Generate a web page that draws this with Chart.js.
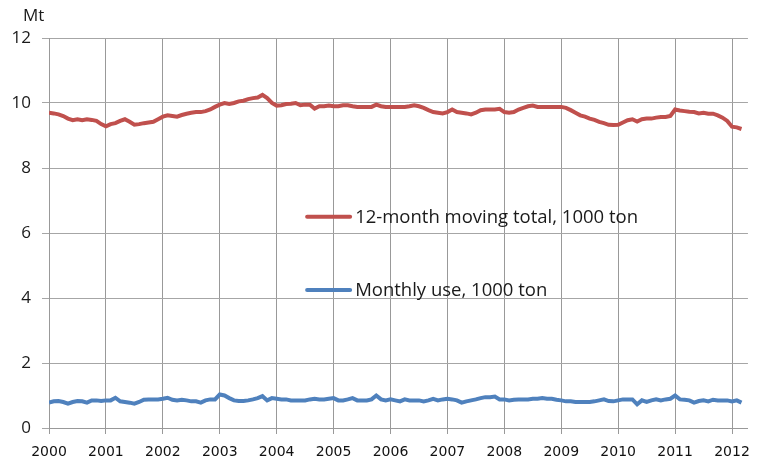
<!DOCTYPE html>
<html>
<head>
<meta charset="utf-8">
<script src="https://cdn.jsdelivr.net/npm/chart.js@4/dist/chart.umd.min.js"></script>
<style>
  html, body { margin: 0; padding: 0; background: #fff; }
  #wrap { width: 760px; height: 465px; }
</style>
</head>
<body>
<div id="wrap"><canvas id="c" width="760" height="465"></canvas></div>
<script>
// 月次データ 2000/01 〜 2012/03
const startYear = 2000;
const yearTicks = [2000, 2001, 2002, 2003, 2004, 2005, 2006, 2007, 2008, 2009, 2010, 2011, 2012];

const movingTotal = [
  9.70, 9.68, 9.65, 9.60, 9.52, 9.47, 9.50, 9.47, 9.50, 9.48, 9.45, 9.35, // 2000
  9.28, 9.35, 9.38, 9.45, 9.50, 9.42, 9.33, 9.35, 9.38, 9.40, 9.42, 9.50, // 2001
  9.58, 9.62, 9.60, 9.58, 9.63, 9.67, 9.70, 9.72, 9.72, 9.75, 9.80, 9.88, // 2002
  9.95, 10.00, 9.97, 10.00, 10.05, 10.07, 10.12, 10.15, 10.17, 10.25, 10.15, 10.00, // 2003
  9.92, 9.93, 9.97, 9.98, 10.00, 9.93, 9.95, 9.95, 9.83, 9.90, 9.90, 9.92, // 2004
  9.90, 9.90, 9.93, 9.93, 9.90, 9.88, 9.88, 9.88, 9.88, 9.95, 9.90, 9.88, // 2005
  9.88, 9.88, 9.88, 9.88, 9.90, 9.93, 9.90, 9.85, 9.78, 9.72, 9.70, 9.68, // 2006
  9.72, 9.80, 9.72, 9.70, 9.68, 9.65, 9.70, 9.78, 9.80, 9.80, 9.80, 9.82, // 2007
  9.72, 9.70, 9.72, 9.80, 9.85, 9.90, 9.92, 9.88, 9.88, 9.88, 9.88, 9.88, // 2008
  9.88, 9.85, 9.78, 9.70, 9.62, 9.58, 9.52, 9.48, 9.42, 9.38, 9.33, 9.32, // 2009
  9.33, 9.40, 9.47, 9.50, 9.43, 9.50, 9.52, 9.52, 9.55, 9.57, 9.57, 9.60, // 2010
  9.80, 9.77, 9.75, 9.73, 9.72, 9.68, 9.70, 9.67, 9.67, 9.62, 9.55, 9.45, // 2011
  9.27, 9.25, 9.20                                                        // 2012
];

const monthlyUse = [
  0.78, 0.82, 0.83, 0.80, 0.75, 0.80, 0.83, 0.82, 0.78, 0.85, 0.85, 0.83, // 2000
  0.85, 0.85, 0.93, 0.82, 0.80, 0.78, 0.75, 0.80, 0.87, 0.88, 0.88, 0.88, // 2001
  0.90, 0.93, 0.87, 0.85, 0.87, 0.85, 0.82, 0.82, 0.78, 0.85, 0.88, 0.88, // 2002
  1.03, 1.00, 0.92, 0.85, 0.83, 0.83, 0.85, 0.88, 0.92, 0.98, 0.85, 0.92, // 2003
  0.90, 0.88, 0.88, 0.85, 0.85, 0.85, 0.85, 0.88, 0.90, 0.88, 0.88, 0.90, // 2004
  0.92, 0.85, 0.85, 0.88, 0.92, 0.85, 0.85, 0.85, 0.88, 1.00, 0.88, 0.85, // 2005
  0.88, 0.85, 0.82, 0.88, 0.85, 0.85, 0.85, 0.82, 0.85, 0.90, 0.85, 0.88, // 2006
  0.90, 0.88, 0.85, 0.78, 0.82, 0.85, 0.88, 0.92, 0.95, 0.95, 0.97, 0.88, // 2007
  0.88, 0.85, 0.87, 0.88, 0.88, 0.88, 0.90, 0.90, 0.92, 0.90, 0.90, 0.87, // 2008
  0.85, 0.82, 0.82, 0.80, 0.80, 0.80, 0.80, 0.82, 0.85, 0.88, 0.83, 0.82, // 2009
  0.85, 0.88, 0.88, 0.88, 0.73, 0.85, 0.80, 0.85, 0.88, 0.85, 0.88, 0.90, // 2010
  1.00, 0.88, 0.87, 0.85, 0.78, 0.83, 0.85, 0.82, 0.87, 0.85, 0.85, 0.85, // 2011
  0.82, 0.85, 0.78                                                        // 2012
];

const labels = ["12-month moving total, 1000 ton", "Monthly use, 1000 ton"];
const colors = ["#C0504D", "#4F81BD"];

// x = 年 + 月/12
const toPoints = arr => arr.map((v, i) => ({ x: startYear + i / 12, y: v }));

// 凡例は図中に置く（Excel風）
const inlineLegend = {
  id: "inlineLegend",
  afterDraw(chart) {
    const ctx = chart.ctx;
    const xs = chart.scales.x, ys = chart.scales.y;
    const x0 = xs.getPixelForValue(2004.5);
    const rows = [6.5, 4.25];
    ctx.save();
    ctx.font = "18.5px 'Open Sans', sans-serif";
    ctx.textBaseline = "middle";
    chart.data.datasets.forEach((ds, i) => {
      const y = ys.getPixelForValue(rows[i]);
      ctx.strokeStyle = ds.borderColor;
      ctx.lineWidth = 4;
      ctx.lineCap = "round";
      ctx.beginPath();
      ctx.moveTo(x0 + 2, y);
      ctx.lineTo(x0 + 45, y);
      ctx.stroke();
      ctx.fillStyle = "#1a1a1a";
      ctx.fillText(ds.label, x0 + 50, y + 1);
    });
    // 単位
    ctx.font = "17px 'Open Sans', sans-serif";
    ctx.fillText("Mt", 23, 16);
    ctx.restore();
  }
};

new Chart(document.getElementById("c"), {
  type: "line",
  data: {
    datasets: [
      { label: labels[0], data: toPoints(movingTotal), borderColor: colors[0], borderWidth: 4, pointRadius: 0, tension: 0 },
      { label: labels[1], data: toPoints(monthlyUse), borderColor: colors[1], borderWidth: 4, pointRadius: 0, tension: 0 }
    ]
  },
  options: {
    responsive: false,
    animation: false,
    layout: { padding: { top: 38, right: 8, left: 0, bottom: 0 } },
    plugins: { legend: { display: false }, tooltip: { enabled: false } },
    scales: {
      x: {
        type: "linear",
        min: 2000,
        max: 2012.28,
        afterBuildTicks: s => { s.ticks = yearTicks.map(v => ({ value: v })); },
        afterFit: s => { s.height = 37; },
        ticks: {
          includeBounds: false,
          padding: 10,
          color: "#111",
          font: { family: "'DejaVu Sans'", size: 14 },
          maxRotation: 0,
          callback: v => String(v)
        },
        grid: { color: "#999", borderDash: [4, 3], tickLength: 6, tickBorderDash: [], tickColor: "#999" },
        border: { color: "#999", width: 1 }
      },
      y: {
        min: 0,
        max: 12,
        afterFit: s => { s.width = 49; },
        ticks: {
          stepSize: 2,
          padding: 11,
          color: "#1a1a1a",
          font: { family: "'Open Sans'", size: 17 }
        },
        grid: { color: "#a6a6a6", tickLength: 7 },
        border: { color: "#999", width: 1 }
      }
    }
  },
  plugins: [inlineLegend]
});
</script>
</body>
</html>
